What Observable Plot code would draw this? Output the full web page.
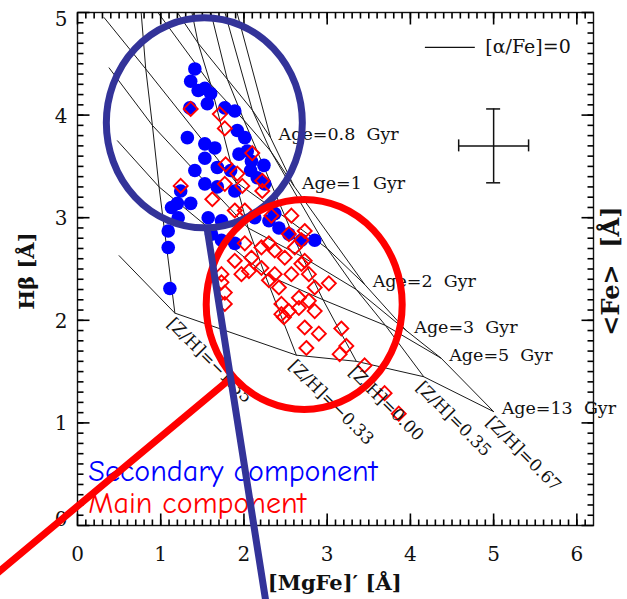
<!DOCTYPE html>
<html>
<head>
<meta charset="utf-8">
<script src="https://cdn.jsdelivr.net/npm/d3@7"></script>
<script src="https://cdn.jsdelivr.net/npm/@observablehq/plot@0.6"></script>
<style>
  html, body { margin: 0; padding: 0; background: #fff; }
  #chart svg { display: block; }
</style>
</head>
<body>
<div id="chart"></div>
<script>
// Model grid: [MgFe]' and Hbeta for each metallicity (rows) and age (columns)
const ages = [0.5, 0.8, 1, 2, 3, 5, 13];
const metallicities = [-2.25, -1.35, -0.33, 0.00, 0.35, 0.67];
const modelMgFe = [
  [0.20, 0.24, 0.26, 0.32, 0.38, 0.48, 0.50],
  [0.62, 0.70, 0.74, 0.82, 0.90, 0.98, 1.17],
  [1.20, 1.45, 1.60, 1.90, 2.05, 2.25, 2.63],
  [1.45, 1.80, 2.00, 2.50, 2.70, 2.95, 3.35],
  [1.65, 2.10, 2.32, 3.00, 3.35, 3.70, 4.16],
  [1.85, 2.32, 2.60, 3.45, 3.95, 4.37, 5.00]
];
const modelHbeta = [
  [7.50, 6.30, 5.90, 4.95, 4.46, 3.75, 2.63],
  [6.50, 5.60, 5.25, 4.45, 3.90, 3.30, 2.07],
  [5.70, 4.70, 4.30, 3.35, 2.90, 2.45, 1.66],
  [5.50, 4.35, 3.95, 3.00, 2.62, 2.20, 1.60],
  [5.35, 4.05, 3.65, 2.70, 2.30, 1.95, 1.45],
  [5.20, 3.78, 3.31, 2.35, 1.90, 1.63, 1.11]
];
const labelledAges = [0.8, 1, 2, 3, 5, 13];

// Secondary component (filled blue circles)
const secondaryMgFe = [1.41, 1.36, 1.53, 1.60, 1.56, 1.45, 1.77, 1.89, 1.32, 1.53,
  1.65, 1.92, 2.01, 2.04, 1.53, 1.41, 1.68, 1.84, 2.08, 2.16,
  1.24, 1.53, 1.68, 1.89, 2.25, 1.20, 1.36, 1.13, 1.21, 1.57,
  1.09, 1.09, 1.11, 1.61, 1.73, 1.89, 2.30, 2.42, 2.54, 2.69,
  2.85, 2.37, 2.09, 1.94, 2.24, 2.13, 1.73, 1.35];
const secondaryHbeta = [4.45, 4.33, 4.26, 4.21, 4.11, 4.24, 4.07, 4.04, 3.78, 3.72,
  3.68, 3.85, 3.78, 3.65, 3.58, 3.46, 3.49, 3.46, 3.46, 3.39,
  3.26, 3.33, 3.30, 3.26, 3.33, 3.14, 3.14, 3.10, 3.00, 3.00,
  2.87, 2.71, 2.31, 2.84, 2.78, 2.75, 2.97, 2.90, 2.84, 2.78,
  2.78, 3.04, 3.55, 3.62, 3.51, 3.00, 2.97, 4.07];

// Main component (open red diamonds)
const mainMgFe = [1.36, 1.71, 1.77, 2.10, 1.78, 1.92, 1.77, 1.98, 2.22, 1.24,
  1.62, 1.89, 2.01, 2.33, 2.54, 2.69, 2.61, 2.73, 3.02, 2.01,
  2.09, 1.89, 2.21, 1.97, 1.73, 2.37, 2.49, 2.69, 2.57, 2.78,
  2.85, 2.54, 2.66, 2.85, 2.73, 2.90, 3.17, 3.23, 3.15, 2.75,
  3.45, 3.69, 3.86, 1.73, 1.77, 2.06, 2.21, 2.30, 2.37, 2.30,
  2.42, 2.45, 2.48, 2.66, 2.73, 2.78, 2.22, 2.57, 2.45, 1.77];
const mainHbeta = [4.06, 4.01, 3.87, 3.63, 3.52, 3.43, 3.33, 3.31, 3.26, 3.31,
  3.18, 3.07, 3.07, 3.02, 2.84, 2.78, 2.71, 2.58, 2.36, 2.75,
  2.61, 2.58, 2.51, 2.45, 2.45, 2.45, 2.61, 2.55, 2.45, 2.45,
  2.32, 2.09, 2.12, 2.09, 1.93, 1.87, 1.92, 1.75, 1.67, 1.73,
  1.56, 1.29, 1.09, 2.37, 2.27, 2.48, 2.71, 2.75, 2.68, 2.39,
  2.32, 2.16, 2.03, 2.22, 2.87, 2.19, 3.36, 3.02, 2.06, 2.16];

// Typical measurement uncertainty, drawn as a cross
const errorCenter = {mgfe: 5.0, hbeta: 3.70};
const errorSize = {mgfe: 0.42, hbeta: 0.36};

// Axis ticks
const xTickLabels = [0, 1, 2, 3, 4, 5, 6];
const yTickLabels = [0, 1, 2, 3, 4, 5];
const xMinor = d3.range(1, 62).map(i => i / 10);
const yMinor = d3.range(1, 50).map(i => i / 10);
const xLimits = [0, 6.2];
const yLimits = [0, 5];

// Highlighted regions and their pointers
const highlights = [
  {name: "secondary", mgfe: 1.53, hbeta: 3.92, color: "#333399"},
  {name: "main", mgfe: 2.73, hbeta: 2.15, color: "#ff0000"}
];
const pointers = [
  {name: "secondary", mgfe: 1.56, hbeta: 2.88},
  {name: "secondary", mgfe: 2.28, hbeta: -0.83},
  {name: "main", mgfe: 1.85, hbeta: 1.44},
  {name: "main", mgfe: -1.165, hbeta: -0.60}
];

const serif = "'DejaVu Serif', 'Liberation Serif', serif";
const comic = "'Comic Sans MS', 'Comic Neue', 'DejaVu Sans', sans-serif";
const minus = v => v.toFixed(2).replace("-", "\u2212");
const ink = "#000";

// plot geometry
const W = 627, H = 599;
const margin = {top: 12, right: 34, bottom: 74, left: 77};
const pxPerX = (W - margin.left - margin.right) / (xLimits[1] - xLimits[0]);
const pxPerY = (H - margin.top - margin.bottom) / (yLimits[1] - yLimits[0]);

const grid = [];
metallicities.forEach((z, i) => ages.forEach((age, j) =>
  grid.push({z, age, mgfe: modelMgFe[i][j], hbeta: modelHbeta[i][j]})));

const secondary = secondaryMgFe.map((m, i) => ({mgfe: m, hbeta: secondaryHbeta[i]}));
const main = mainMgFe.map((m, i) => ({mgfe: m, hbeta: mainHbeta[i]}));

const ageEnds = grid.filter(d => d.z === 0.67 && labelledAges.includes(d.age));
const zEnds = grid.filter(d => d.age === 13 && d.z > -2);

// ellipse outlines around the two groups, centred through the scales
function ellipses(data, rx, ry, width) {
  return (index, scales) => {
    const g = d3.create("svg:g");
    for (const d of data) {
      g.append("ellipse")
        .attr("cx", scales.x(d.mgfe))
        .attr("cy", scales.y(d.hbeta))
        .attr("rx", rx).attr("ry", ry)
        .attr("fill", "none")
        .attr("stroke", d.color)
        .attr("stroke-width", width);
    }
    return g.node();
  };
}

// inward-pointing tick segments on all four sides of the frame
function tickSegments(xs, ys, len) {
  const dy = len / pxPerY, dx = len / pxPerX;
  const [x0, x1] = xLimits, [y0, y1] = yLimits;
  return [
    ...xs.flatMap(v => [
      {x1: v, y1: y0, x2: v, y2: y0 + dy},
      {x1: v, y1: y1, x2: v, y2: y1 - dy}
    ]),
    ...ys.flatMap(v => [
      {x1: x0, y1: v, x2: x0 + dx, y2: v},
      {x1: x1, y1: v, x2: x1 - dx, y2: v}
    ])
  ];
}
const ticks = [...tickSegments(xMinor, yMinor, 6), ...tickSegments(xTickLabels, yTickLabels, 12)];

const labelFont = {fontFamily: serif, fill: "#111"};

const chart = Plot.plot({
  width: W,
  height: H,
  marginLeft: margin.left,
  marginRight: margin.right,
  marginTop: margin.top,
  marginBottom: margin.bottom,
  style: {background: "#fff", overflow: "visible"},
  x: {domain: xLimits, axis: null},
  y: {domain: yLimits, axis: null},
  marks: [
    // age tracks and metallicity tracks
    Plot.line(grid, {x: "mgfe", y: "hbeta", z: "age", stroke: "#1a1a1a", strokeWidth: 1, clip: true}),
    Plot.line(grid.filter(d => d.z > -2), {x: "mgfe", y: "hbeta", z: "z", stroke: "#1a1a1a", strokeWidth: 1, clip: true}),

    Plot.dot(secondary, {x: "mgfe", y: "hbeta", r: 6.8, fill: "#0000ff", stroke: "none"}),
    Plot.dot(main, {x: "mgfe", y: "hbeta", r: 6.3, symbol: "diamond2", stroke: "#ff0000", strokeWidth: 1.9, fill: "none"}),

    // frame and ticks
    Plot.frame({stroke: "#111", strokeWidth: 1.4}),
    Plot.link(ticks, {x1: "x1", y1: "y1", x2: "x2", y2: "y2", stroke: ink, strokeWidth: 1.6}),

    // tick labels
    Plot.text(xTickLabels, {x: d => d, frameAnchor: "bottom", dy: 29, lineAnchor: "middle", textAnchor: "middle", text: d => String(d), fontSize: 20, ...labelFont}),
    Plot.text(yTickLabels.filter(d => d > 0 && d < 5), {y: d => d, frameAnchor: "left", dx: -10, dy: 1, textAnchor: "end", lineAnchor: "middle", text: d => String(d), fontSize: 20, ...labelFont}),
    Plot.text([5], {y: d => d, frameAnchor: "left", dx: -10, dy: 7, textAnchor: "end", lineAnchor: "middle", text: d => String(d), fontSize: 20, ...labelFont}),
    Plot.text([0], {y: d => d, frameAnchor: "left", dx: -10, dy: -6, textAnchor: "end", lineAnchor: "middle", text: d => String(d), fontSize: 20, ...labelFont}),

    // axis titles
    Plot.text(["[MgFe]\u2032 [\u00c5]"], {frameAnchor: "bottom", x: 3.09, dy: 58, textAnchor: "middle", lineAnchor: "middle", fontSize: 21, fontWeight: "bold", ...labelFont}),
    Plot.text(["H\u03b2 [\u00c5]"], {frameAnchor: "left", y: 2.48, dx: -50, rotate: -90, textAnchor: "middle", lineAnchor: "middle", fontSize: 21, fontWeight: "bold", ...labelFont}),
    Plot.text(["<Fe>\u00a0\u00a0[\u00c5]"], {frameAnchor: "right", y: 2.48, dx: 18, rotate: -90, textAnchor: "middle", lineAnchor: "middle", fontSize: 24, fontWeight: "bold", ...labelFont}),

    // grid labels
    Plot.text(ageEnds, {x: "mgfe", y: "hbeta", text: d => `Age=${d.age}\u00a0\u00a0Gyr`, textAnchor: "start", lineAnchor: "middle", dx: 8, dy: -3, fontSize: 17.5, ...labelFont}),
    Plot.text(zEnds, {x: "mgfe", y: "hbeta", text: d => `[Z/H]=${minus(d.z)}`, rotate: 45, textAnchor: "start", lineAnchor: "top", dx: 0, dy: 3, fontSize: 17, ...labelFont}),

    // legend for the model grid
    Plot.ruleY([4.66], {x1: 4.18, x2: 4.78, stroke: "#111", strokeWidth: 1.2}),
    Plot.text(["[\u03b1/Fe]=0"], {x: 4.9, y: 4.66, textAnchor: "start", lineAnchor: "middle", fontSize: 19, ...labelFont}),

    // error cross
    Plot.ruleY([errorCenter], {y: "hbeta", x1: d => d.mgfe - errorSize.mgfe, x2: d => d.mgfe + errorSize.mgfe, stroke: "#111", strokeWidth: 1.5}),
    Plot.ruleX([errorCenter], {x: "mgfe", y1: d => d.hbeta - errorSize.hbeta, y2: d => d.hbeta + errorSize.hbeta, stroke: "#111", strokeWidth: 1.5}),
    Plot.ruleX([errorCenter.mgfe - errorSize.mgfe, errorCenter.mgfe + errorSize.mgfe], {x: d => d, y1: errorCenter.hbeta, y2: errorCenter.hbeta, insetTop: -6, insetBottom: -6, stroke: "#111", strokeWidth: 1.5}),
    Plot.ruleY([errorCenter.hbeta - errorSize.hbeta, errorCenter.hbeta + errorSize.hbeta], {y: d => d, x1: errorCenter.mgfe, x2: errorCenter.mgfe, insetLeft: -7, insetRight: -7, stroke: "#111", strokeWidth: 1.5}),

    // highlighted groups
    ellipses(highlights, 98, 105, 7),
    Plot.text(["Secondary component"], {x: 0.13, y: 0.43, textAnchor: "start", lineAnchor: "bottom", fontSize: 30, fontFamily: comic, fill: "#0000ff"}),
    Plot.text(["Main component"], {x: 0.13, y: 0.12, textAnchor: "start", lineAnchor: "bottom", fontSize: 30, fontFamily: comic, fill: "#ff0000"}),
    Plot.line(pointers.filter(d => d.name === "main"), {x: "mgfe", y: "hbeta", stroke: "#ff0000", strokeWidth: 7}),
    Plot.line(pointers.filter(d => d.name === "secondary"), {x: "mgfe", y: "hbeta", stroke: "#333399", strokeWidth: 7})
  ]
});

document.getElementById("chart").appendChild(chart);
</script>
</body>
</html>
